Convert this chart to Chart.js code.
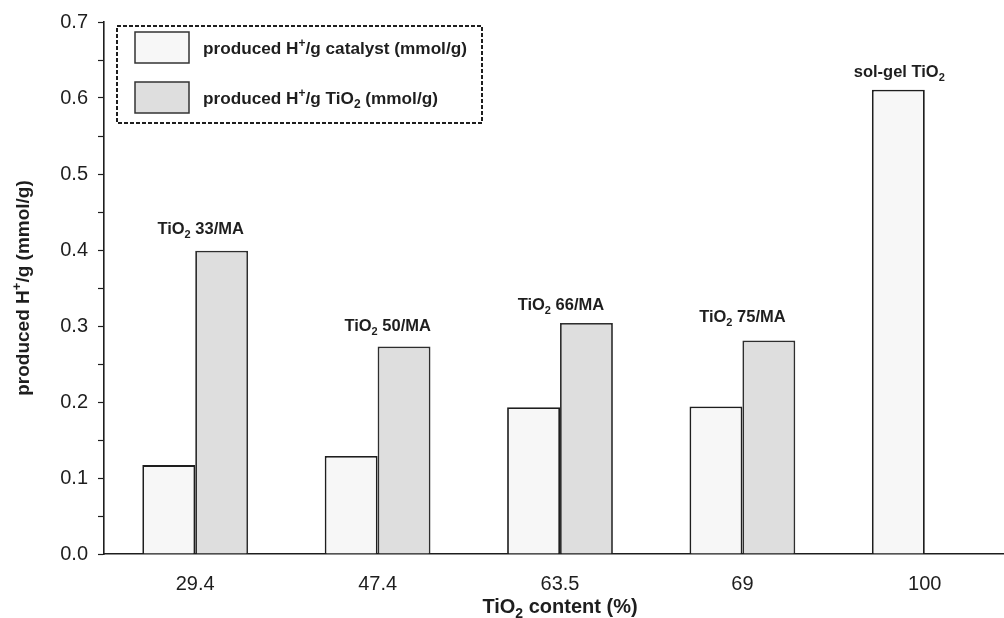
<!DOCTYPE html>
<html><head><meta charset="utf-8">
<script src="https://cdn.jsdelivr.net/npm/chart.js@4.4.1/dist/chart.umd.min.js"></script>
<style>html,body{margin:0;padding:0;overflow:hidden;background:#fff;width:1004px;height:618px}canvas{display:block}</style>
</head><body>
<canvas id="c" width="1016" height="618" style="width:1016px;height:618px"></canvas>
<script>
// ---- data ----
const categories = ['29.4', '47.4', '63.5', '69', '100'];
const perCatalyst = [0.117, 0.129, 0.193, 0.194, 0.611];
const perTiO2 = [0.399, 0.273, 0.304, 0.281, null];
const seriesLabels = ['produced H^{+}/g catalyst (mmol/g)', 'produced H^{+}/g TiO_{2} (mmol/g)'];
const sampleNames = ['TiO_{2} 33/MA', 'TiO_{2} 50/MA', 'TiO_{2} 66/MA', 'TiO_{2} 75/MA', 'sol-gel TiO_{2}'];
const sampleNameCat = [0.03, 1.055, 2.005, 3.0, 3.86];
const sampleNameY = [0.421, 0.294, 0.321, 0.305, 0.628];
const xTitle = 'TiO_{2} content (%)';
const yTitle = 'produced H^{+}/g (mmol/g)';

const FONT = '"Liberation Sans", Arial, sans-serif';
const INK = '#1e1e1e';
const fills = ['#f7f7f7', '#dedede'];

function parseRich(s) {
  const out = []; const re = /([_^])\{([^}]*)\}/g; let last = 0, m;
  while ((m = re.exec(s))) {
    if (m.index > last) out.push({t: s.slice(last, m.index), k: ''});
    out.push({t: m[2], k: m[1]}); last = re.lastIndex;
  }
  if (last < s.length) out.push({t: s.slice(last), k: ''});
  return out;
}
function drawRich(ctx, s, x, y, size, align) {
  const segs = parseRich(s);
  const big = 'bold ' + size + 'px ' + FONT, small = 'bold ' + Math.round(size * 0.68) + 'px ' + FONT;
  let w = 0;
  segs.forEach(g => { ctx.font = g.k ? small : big; g.w = ctx.measureText(g.t).width; w += g.w; });
  let cx = align === 'center' ? x - w / 2 : x;
  ctx.textAlign = 'left'; ctx.textBaseline = 'alphabetic'; ctx.fillStyle = INK;
  segs.forEach(g => {
    ctx.font = g.k ? small : big;
    const dy = g.k === '_' ? size * 0.25 : g.k === '^' ? -size * 0.42 : 0;
    ctx.fillText(g.t, cx, y + dy); cx += g.w;
  });
}

const decor = {
  id: 'decor',
  afterDraw(chart) {
    const ctx = chart.ctx, a = chart.chartArea, xs = chart.scales.x, ys = chart.scales.y;
    ctx.save();
    // sample annotations
    sampleNames.forEach((n, i) => {
      drawRich(ctx, n, xs.getPixelForValue(sampleNameCat[i]), ys.getPixelForValue(sampleNameY[i]), 16.5, 'center');
    });
    // legend
    const lx = a.left + 13, ly = a.top + 4;
    ctx.setLineDash([4, 2]); ctx.lineWidth = 2; ctx.strokeStyle = INK;
    ctx.strokeRect(lx, ly, 365, 97);
    ctx.setLineDash([]);
    seriesLabels.forEach((lab, i) => {
      const sy = ly + 6 + i * 50;
      ctx.fillStyle = fills[i]; ctx.fillRect(lx + 18, sy, 54, 31);
      ctx.lineWidth = 1.5; ctx.strokeStyle = '#333'; ctx.strokeRect(lx + 18, sy, 54, 31);
      drawRich(ctx, lab, lx + 86, sy + 22, 17.2, 'left');
    });
    // axis titles
    drawRich(ctx, xTitle, (a.left + a.right) / 2, 613, 20, 'center');
    ctx.translate(29, (a.top + a.bottom) / 2);
    ctx.rotate(-Math.PI / 2);
    drawRich(ctx, yTitle, 0, 0, 19, 'center');
    ctx.restore();
  }
};

new Chart(document.getElementById('c'), {
  type: 'bar',
  data: {
    labels: categories,
    datasets: [
      {label: 'catalyst', data: perCatalyst, backgroundColor: fills[0], borderColor: INK, borderWidth: 1.8},
      {label: 'TiO2', data: perTiO2, backgroundColor: fills[1], borderColor: '#2e2e2e', borderWidth: 1.8}
    ]
  },
  options: {
    responsive: false, animation: false,
    layout: {padding: {top: 21, right: 0, left: 0, bottom: 0}},
    plugins: {legend: {display: false}, tooltip: {enabled: false}},
    datasets: {bar: {categoryPercentage: 0.58, barPercentage: 1}},
    scales: {
      x: {
        grid: {display: false, drawTicks: false},
        border: {display: true, color: INK, width: 1.6},
        ticks: {color: INK, font: {size: 20, family: FONT}, padding: 18},
        afterFit(s) { s.height = 64; }
      },
      y: {
        min: 0, max: 0.7,
        grid: {drawOnChartArea: false, drawTicks: true, tickLength: 6, tickColor: INK, tickWidth: 1.2},
        border: {display: true, color: INK, width: 1.6},
        ticks: {
          stepSize: 0.05, autoSkip: false, color: INK, padding: 10,
          font: {size: 20, family: FONT},
          callback: v => Math.abs(v * 10 - Math.round(v * 10)) < 1e-6 ? v.toFixed(1) : ''
        },
        afterFit(s) { s.width = 104; }
      }
    }
  },
  plugins: [decor]
});
</script>
</body></html>
